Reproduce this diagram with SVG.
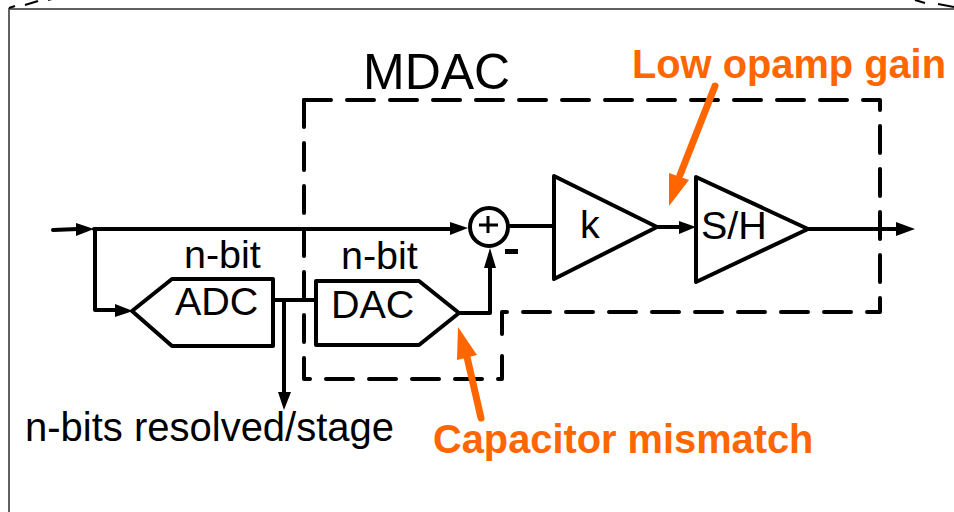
<svg xmlns="http://www.w3.org/2000/svg" width="954" height="512" viewBox="0 0 954 512">
<style>
.l{fill:none;stroke:#000;stroke-width:4;stroke-linejoin:round;stroke-linecap:round}
.s{fill:#fff;stroke:#000;stroke-width:4;stroke-linejoin:round}
.d{fill:none;stroke:#000;stroke-width:4;stroke-linecap:round;stroke-linejoin:round;stroke-dasharray:27 16}
.a{fill:#000}
.t{font-family:"Liberation Sans",Arial,sans-serif;font-size:39.5px;fill:#000}
.o{font-family:"Liberation Sans",Arial,sans-serif;font-size:39.8px;font-weight:bold;fill:#ff6600}
.oa{fill:#ff6600}
.ol{fill:none;stroke:#ff6600;stroke-width:7;stroke-linecap:round}
</style>
<rect width="954" height="512" fill="#fff"/>
<g id="frame">
<path d="M9 512V9H954" fill="none" stroke="#606060" stroke-width="2"/>
<path d="M9 8L15 6M25 5L38 1M48 0L52 -1M915 0L925 3M938 4L954 7" fill="none" stroke="#000" stroke-width="2"/>
</g>
<g id="mdac-box">
<path class="d" d="M304 100H880V312H502V336"/>
<path class="d" d="M502 356V379H304V100"/>
<text class="t" x="363" y="89" style="font-size:50px">MDAC</text>
</g>
<g id="connectors">
<path class="l" d="M53 230L78 229M94 229H452M95 229V310H116"/>
<path class="a" d="M76 223L94 229L76 236Z"/>
<path class="a" d="M450 222L468 228L450 235Z"/>
<path class="a" d="M115 304L133 311L115 317Z"/>
<path class="l" d="M510 226H554M657 227H680M808 229H898M275 300H316M284 300V392M459 313H490V265"/>
<path class="a" d="M679 221L696 227L679 234Z"/>
<path class="a" d="M896 222L915 229L896 236Z"/>
<path class="a" d="M278 392L291 392L284 410Z"/>
<path class="a" d="M484 268L490 248L496 268Z"/>
</g>
<g id="adc"><path class="s" d="M172 279H273V346H172L132 311Z"/><text class="t" x="175" y="315">ADC</text><text class="t" x="184" y="268">n-bit</text></g>
<g id="dac"><path class="s" d="M316 281H419L459 313L419 345H316Z"/><text class="t" x="331" y="318">DAC</text><text class="t" x="341" y="269">n-bit</text></g>
<g id="sum"><circle class="s" cx="489" cy="227" r="19"/><path d="M488 216V233M479 225H498" fill="none" stroke="#000" stroke-width="3"/><rect x="505" y="249" width="13" height="5" fill="#000"/></g>
<g id="k"><path class="s" d="M554 176L657 227L554 279Z"/><text class="t" x="580" y="238">k</text></g>
<g id="sh"><path class="s" d="M696 177L808 229L696 282Z"/><text class="t" x="701" y="239">S/H</text></g>
<g id="output-label"><text class="t" x="25" y="441" style="font-size:40px">n-bits resolved/stage</text></g>
<g id="low-gain"><text class="o" x="632" y="78">Low opamp gain</text><path class="ol" d="M715 86L680 175"/><path class="oa" d="M669 173L689 180L669 206Z"/></g>
<g id="cap-mismatch"><text class="o" x="433" y="453">Capacitor mismatch</text><path class="ol" d="M481 418L467 357"/><path class="oa" d="M457 360L477 355L458 327Z"/></g>
</svg>
